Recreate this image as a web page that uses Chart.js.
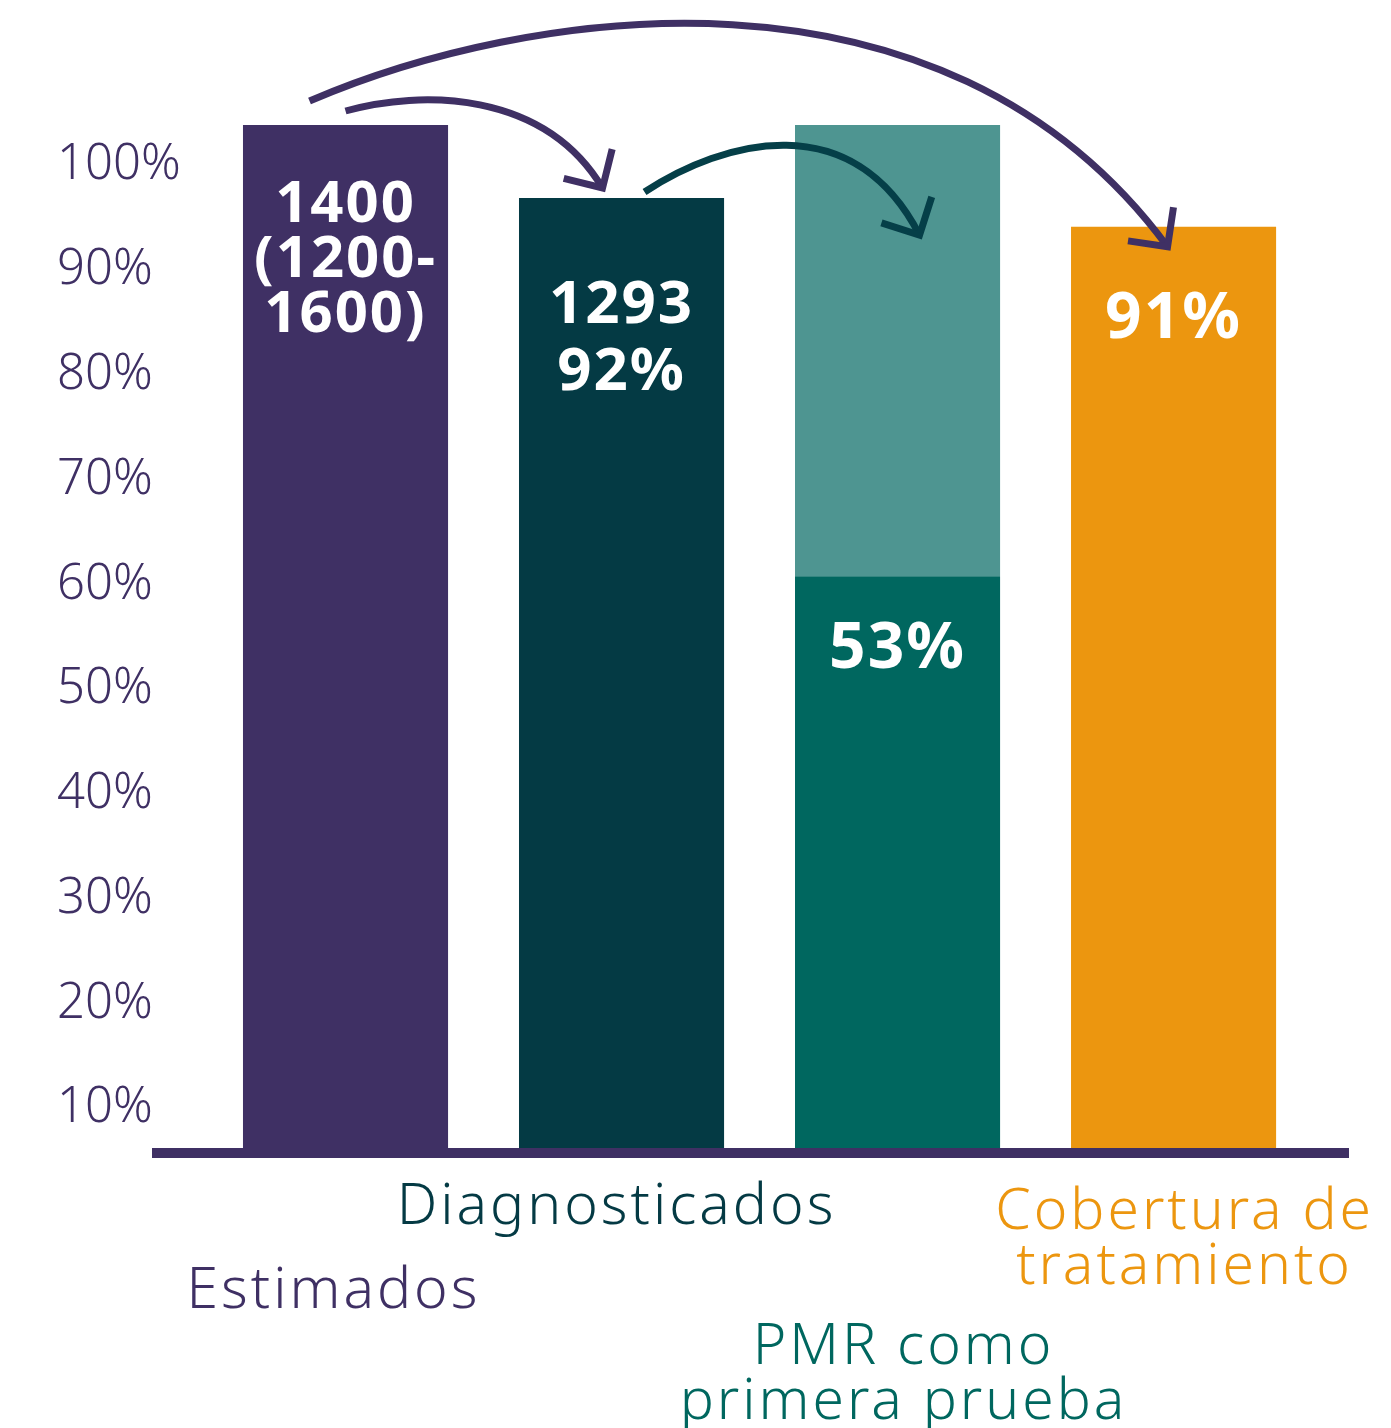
<!DOCTYPE html>
<html>
<head>
<meta charset="utf-8">
<script src="https://cdn.jsdelivr.net/npm/chart.js@4.4.0/dist/chart.umd.min.js"></script>
<style>
  html, body { margin: 0; padding: 0; background: #fff; }
  #wrap { width: 1391px; height: 1428px; }
</style>
</head>
<body>
<div id="wrap"><canvas id="cascada"></canvas></div>
<script>
// categorias de la cascada
const categorias = ['Estimados', 'Diagnosticados', 'PMR como primera prueba', 'Cobertura de tratamiento'];
// lineas de cada etiqueta debajo del eje
const etiquetasEje = [['Estimados'], ['Diagnosticados'], ['PMR como', 'primera prueba'], ['Cobertura de', 'tratamiento']];
// altura de cada barra (%)
const valores = [100, 92.9, 56.1, 90.1];
// parte clara que completa la barra de PMR
const resto = [null, null, 43.9, null];
// textos dentro de las barras
const textosBarra = [['1400', '(1200-', '1600)'], ['1293', '92%'], ['53%'], ['91%']];
// marcas del eje vertical
const marcasY = [10, 20, 30, 40, 50, 60, 70, 80, 90, 100];

const colores = ['#3f3064', '#043a44', '#00675f', '#ec960f'];
const colorResto = '#4e9591';
const morado = '#3f3064';

// posiciones de los textos (relativas a la barra o al eje)
const estiloTextos = {
  dentro: [
    { dy: 97, lh: 55, size: 58 },
    { dy: 125, lh: 67, size: 60 },
    { dy: 92, lh: 60, size: 64 },
    { dy: 111, lh: 60, size: 64 }
  ],
  eje: [
    { dx: -12, dy: 155 },
    { dx: -5, dy: 71 },
    { dx: 6, dy: 211 },
    { dx: 11, dy: 76 }
  ],
  lhEje: 55
};

// flechas: barra de inicio/fin y desplazamientos
const flechas = [
  { de: 0, a: 3, ini: [-36, -24], fin: [-6, 20], c1: [211, -91], c2: [-227, -307], color: morado },
  { de: 0, a: 1, ini: [0, -14], fin: [-19, -10], c1: [75, -21], c2: [-59, -98], color: morado },
  { de: 1, a: 2, ini: [23, -6], fin: [22, 110], c1: [79, -52], c2: [-67, -130], color: '#053f48' }
];

function topeBarra(chart, i) {
  const m0 = chart.getDatasetMeta(0).data[i];
  const m1 = chart.getDatasetMeta(1).data[i];
  if (resto[i] !== null && m1) return { x: m1.x, y: m1.y };
  return { x: m0.x, y: m0.y };
}

const textosPlugin = {
  id: 'textos',
  afterDraw(chart) {
    const ctx = chart.ctx;
    const meta = chart.getDatasetMeta(0);
    const xScale = chart.scales.x;
    const base = chart.chartArea.bottom;
    ctx.save();

    // textos blancos dentro de las barras
    ctx.fillStyle = '#ffffff';
    ctx.textAlign = 'center';
    ctx.textBaseline = 'alphabetic';
    ctx.letterSpacing = '2px';
    textosBarra.forEach((lineas, i) => {
      const b = meta.data[i];
      const s = estiloTextos.dentro[i];
      ctx.font = `700 ${s.size}px "Noto Sans"`;
      lineas.forEach((t, k) => ctx.fillText(t, b.x, b.y + s.dy + k * s.lh));
    });

    // etiquetas debajo del eje
    ctx.letterSpacing = '3px';
    etiquetasEje.forEach((lineas, i) => {
      const s = estiloTextos.eje[i];
      const x = xScale.getPixelForValue(i) + s.dx;
      ctx.fillStyle = colores[i];
      ctx.font = '300 57px "Noto Sans"';
      lineas.forEach((t, k) => ctx.fillText(t, x, base + s.dy + k * estiloTextos.lhEje));
    });
    ctx.letterSpacing = '0px';

    // flechas curvas
    ctx.lineWidth = 7;
    ctx.lineCap = 'butt';
    flechas.forEach(f => {
      const p0 = topeBarra(chart, f.de);
      const p3 = topeBarra(chart, f.a);
      const s = { x: p0.x + f.ini[0], y: p0.y + f.ini[1] };
      const e = { x: p3.x + f.fin[0], y: p3.y + f.fin[1] };
      const c1 = { x: s.x + f.c1[0], y: s.y + f.c1[1] };
      const c2 = { x: e.x + f.c2[0], y: e.y + f.c2[1] };
      ctx.strokeStyle = f.color;
      ctx.beginPath();
      ctx.moveTo(s.x, s.y);
      ctx.bezierCurveTo(c1.x, c1.y, c2.x, c2.y, e.x, e.y);
      ctx.stroke();
      const ang = Math.atan2(e.y - c2.y, e.x - c2.x) + Math.PI;
      const L = 40;
      ctx.beginPath();
      ctx.moveTo(e.x + L * Math.cos(ang - Math.PI / 4), e.y + L * Math.sin(ang - Math.PI / 4));
      ctx.lineTo(e.x, e.y);
      ctx.lineTo(e.x + L * Math.cos(ang + Math.PI / 4), e.y + L * Math.sin(ang + Math.PI / 4));
      ctx.stroke();
    });
    ctx.restore();
  }
};

const ctx = document.getElementById('cascada');
new Chart(ctx, {
  type: 'bar',
  data: {
    labels: categorias,
    datasets: [
      {
        label: 'Cascada',
        data: valores.map((v, i) => ({ x: i, y: v })),
        backgroundColor: colores,
        stack: 'cascada',
        xAxisID: 'x',
        yAxisID: 'y'
      },
      {
        label: 'Resto',
        data: resto.map((v, i) => ({ x: i, y: v })),
        backgroundColor: colorResto,
        stack: 'cascada',
        xAxisID: 'x',
        yAxisID: 'y'
      }
    ]
  },
  options: {
    animation: false,
    responsive: true,
    maintainAspectRatio: false,
    barPercentage: 0.743,
    categoryPercentage: 1,
    layout: { padding: { left: 57, top: 125, right: 43, bottom: 265 } },
    plugins: { legend: { display: false }, tooltip: { enabled: false } },
    scales: {
      y: {
        display: false,
        stacked: true,
        min: 0,
        max: 100
      },
      yt: {
        type: 'linear',
        position: 'left',
        min: 5.75,
        max: 103.87,
        grid: { display: false },
        border: { display: false },
        afterBuildTicks: (axis) => { axis.ticks = marcasY.map(v => ({ value: v })); },
        afterFit: (axis) => { axis.width = 100; },
        ticks: {
          mirror: true,
          crossAlign: 'near',
          padding: -100,
          color: morado,
          font: { family: 'Noto Sans', size: 49, weight: '300' },
          callback: (v) => v + '%'
        }
      },
      x: {
        type: 'linear',
        offset: false,
        stacked: true,
        min: -0.683,
        max: 3.632,
        grid: { display: false },
        // la linea del eje va encima de las barras
        border: { display: true, color: morado, width: 10, z: 1 },
        ticks: { display: false },
        afterBuildTicks: (axis) => { axis.ticks = categorias.map((c, i) => ({ value: i })); },
        afterFit: (axis) => { axis.height = 10; }
      }
    }
  },
  plugins: [textosPlugin]
});
</script>
</body>
</html>
